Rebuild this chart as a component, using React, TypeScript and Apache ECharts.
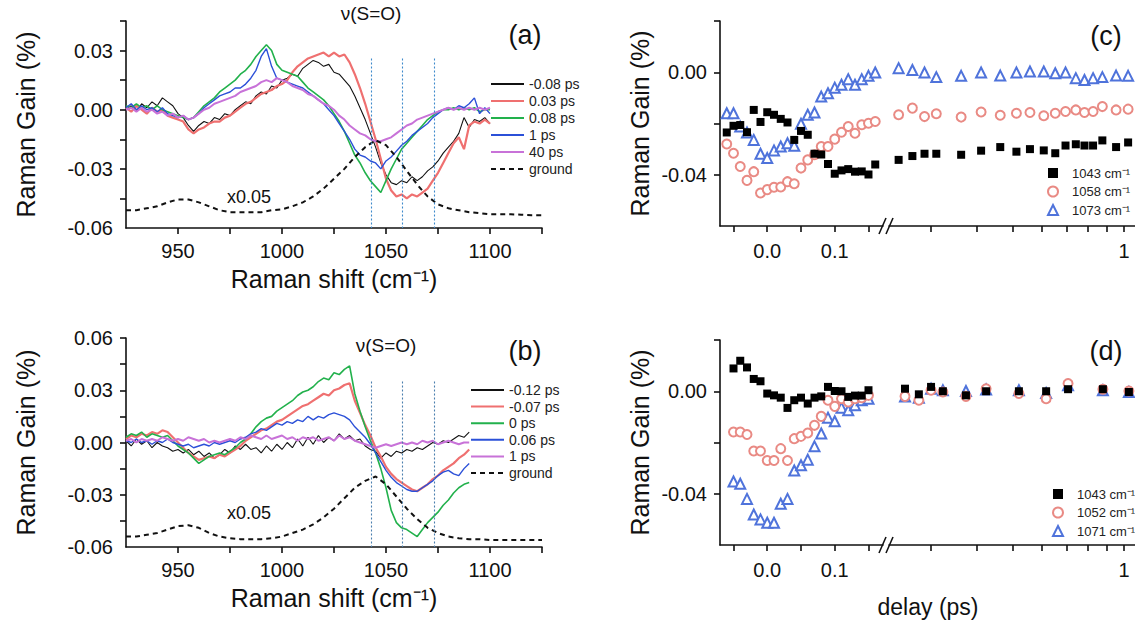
import React, { useEffect, useRef } from "react";
import * as echarts from "echarts";

const FONT = '"Liberation Sans", Arial, Helvetica, sans-serif';
const INK = "#111111";

// ---------------- panel (a) ----------------
const shiftA = [
  925, 927.5, 930, 932.5, 935, 937.5, 940, 942.5, 945, 947.5,
  950, 952.5, 955, 957.5, 960, 962.5, 965, 967.5, 970, 972.5,
  975, 977.5, 980, 982.5, 985, 987.5, 990, 992.5, 995, 997.5,
  1000, 1002.5, 1005, 1007.5, 1010, 1012.5, 1015, 1017.5, 1020, 1022.5,
  1025, 1027.5, 1030, 1032.5, 1035, 1037.5, 1040, 1042.5, 1045, 1047.5,
  1050, 1052.5, 1055, 1057.5, 1060, 1062.5, 1065, 1067.5, 1070, 1072.5,
  1075, 1077.5, 1080, 1082.5, 1085, 1087.5, 1090, 1092.5, 1095, 1097.5,
  1100,
];
const aNeg008 = [
  0.0, 0.002, -0.001, 0.003, 0.001, 0.004, 0.002, 0.006, 0.004, 0.002,
  -0.002, -0.004, -0.008, -0.011, -0.008, -0.006, -0.007, -0.004, -0.005, -0.002,
  -0.003, 0.0, 0.002, 0.004, 0.003, 0.007, 0.009, 0.008, 0.012, 0.011,
  0.015, 0.016, 0.018, 0.017, 0.021, 0.023, 0.025, 0.024, 0.022, 0.023,
  0.019, 0.018, 0.015, 0.012, 0.007, 0.001, -0.005, -0.012, -0.019, -0.027,
  -0.033, -0.037, -0.038, -0.036, -0.037, -0.034, -0.036, -0.034, -0.031, -0.029,
  -0.026, -0.022, -0.019, -0.016, -0.012, -0.004, -0.009, -0.005, -0.006, -0.004,
  -0.007,
];
const a003 = [
  0.001, -0.001, 0.002, 0.0, -0.002, 0.001, -0.001, 0.0, -0.003, -0.004,
  -0.005, -0.006, -0.01, -0.012, -0.01, -0.009, -0.007, -0.006, -0.006, -0.004,
  -0.003, -0.001, 0.001, 0.003, 0.004, 0.006, 0.008, 0.009, 0.01, 0.012,
  0.013, 0.015, 0.019, 0.022, 0.024, 0.026, 0.027, 0.028, 0.029, 0.027,
  0.029, 0.027, 0.028, 0.024, 0.018, 0.011, 0.003, -0.006, -0.015, -0.025,
  -0.035, -0.041, -0.044, -0.043, -0.045, -0.043, -0.044, -0.042, -0.04, -0.036,
  -0.032, -0.027, -0.022, -0.017, -0.014, -0.02, -0.008, -0.006, -0.007, -0.005,
  -0.007,
];
const a008 = [
  0.002, 0.001, 0.003, 0.001, 0.002, 0.0, 0.002, 0.0, -0.001, -0.002,
  -0.003, -0.004, -0.005, -0.004, -0.001, 0.002, 0.004, 0.006, 0.009, 0.011,
  0.013, 0.015, 0.018, 0.02, 0.023, 0.027, 0.03, 0.033, 0.03, 0.023,
  0.02, 0.019, 0.018, 0.017, 0.014, 0.011, 0.009, 0.007, 0.005, 0.002,
  -0.002, -0.006, -0.011, -0.017, -0.023, -0.027, -0.032, -0.036, -0.039, -0.042,
  -0.036, -0.03, -0.025, -0.02, -0.017, -0.014, -0.011, -0.008, -0.005, -0.003,
  -0.001, 0.0, 0.0, 0.001, 0.0, 0.001, 0.0, 0.001, -0.001, 0.0,
  0.0,
];
const a1 = [
  0.001, 0.003, 0.0, 0.002, 0.0, 0.001, -0.001, 0.001, -0.002, -0.003,
  -0.004, -0.003, -0.005, -0.004, -0.002, 0.001, 0.003, 0.005, 0.007, 0.008,
  0.009, 0.011, 0.011, 0.013, 0.016, 0.02, 0.027, 0.031, 0.022, 0.016,
  0.015, 0.014, 0.013, 0.012, 0.011, 0.009, 0.007, 0.005, 0.003, 0.0,
  -0.003, -0.007, -0.011, -0.015, -0.02, -0.023, -0.024, -0.026, -0.027, -0.03,
  -0.026, -0.024, -0.021, -0.018, -0.016, -0.013, -0.011, -0.009, -0.007, -0.004,
  -0.002, 0.0, 0.001, 0.0, 0.002, 0.001, 0.003, 0.006, -0.002, 0.001,
  -0.002,
];
const a40 = [
  0.0, 0.001, -0.001, 0.001, -0.001, 0.0, -0.002, -0.001, -0.003, -0.002,
  -0.004, -0.003, -0.005, -0.004, -0.002, 0.0, 0.001, 0.003, 0.004, 0.005,
  0.006, 0.007, 0.009, 0.01, 0.011, 0.012, 0.014, 0.015, 0.014, 0.016,
  0.015, 0.014, 0.012, 0.011, 0.01, 0.008, 0.007, 0.005, 0.003, 0.002,
  0.0, -0.003, -0.005, -0.008, -0.01, -0.012, -0.013, -0.015, -0.016, -0.016,
  -0.015, -0.014, -0.012, -0.01, -0.008, -0.007, -0.005, -0.004, -0.003, -0.002,
  -0.001, 0.0, 0.001, 0.0, 0.001, 0.0, 0.001, 0.0, 0.001, 0.0,
  0.001,
];
const legendA = ["-0.08 ps", "0.03 ps", "0.08 ps", "1 ps", "40 ps", "ground"];

// ---------------- panel (b) ----------------
const shiftB = [
  925, 927.5, 930, 932.5, 935, 937.5, 940, 942.5, 945, 947.5,
  950, 952.5, 955, 957.5, 960, 962.5, 965, 967.5, 970, 972.5,
  975, 977.5, 980, 982.5, 985, 987.5, 990, 992.5, 995, 997.5,
  1000, 1002.5, 1005, 1007.5, 1010, 1012.5, 1015, 1017.5, 1020, 1022.5,
  1025, 1027.5, 1030, 1032.5, 1035, 1037.5, 1040, 1042.5, 1045, 1047.5,
  1050, 1052.5, 1055, 1057.5, 1060, 1062.5, 1065, 1067.5, 1070, 1072.5,
  1075, 1077.5, 1080, 1082.5, 1085, 1087.5, 1090,
];
const bNeg012 = [
  0.001, -0.002, 0.002, -0.001, 0.001, -0.003, 0.0, -0.002, -0.003, -0.005,
  -0.004, -0.006, -0.004, -0.007, -0.005, -0.008, -0.006, -0.009, -0.007, -0.004,
  -0.006, -0.002, -0.004, -0.001, -0.004, -0.003, -0.006, -0.002, -0.005, -0.001,
  -0.004, 0.0, -0.003, 0.002, -0.002, 0.003, -0.001, 0.004, 0.0, 0.003,
  0.001, 0.005, 0.002, 0.004, 0.001, 0.002, -0.002, -0.004, -0.005, -0.009,
  -0.006, -0.008, -0.005, -0.006, -0.004, -0.005, -0.003, -0.004, -0.002, 0.0,
  -0.001, 0.001, 0.0, 0.002, 0.004, 0.003, 0.006,
];
const bNeg007 = [
  0.002, 0.004, 0.003, 0.005, 0.004, 0.006, 0.005, 0.007, 0.006, 0.003,
  0.0, -0.003, -0.006, -0.008, -0.01, -0.009, -0.008, -0.009, -0.007, -0.008,
  -0.006, -0.004, -0.002, 0.001, 0.003, 0.005, 0.007, 0.008, 0.01, 0.012,
  0.013, 0.015, 0.017, 0.019, 0.021, 0.022, 0.024, 0.026, 0.028, 0.027,
  0.03, 0.031, 0.033, 0.034, 0.024, 0.017, 0.01, 0.004, -0.003, -0.008,
  -0.014, -0.018, -0.021, -0.023, -0.025, -0.027, -0.028, -0.026, -0.024, -0.021,
  -0.019, -0.016, -0.014, -0.012, -0.009, -0.007, -0.004,
];
const b0 = [
  0.003, 0.005, 0.004, 0.006, 0.003, 0.005, 0.004, 0.003, 0.004, 0.001,
  -0.002, -0.004, -0.006, -0.009, -0.012, -0.01, -0.008, -0.007, -0.006, -0.007,
  -0.005, -0.003, 0.0, 0.002, 0.005, 0.009, 0.012, 0.014, 0.015, 0.018,
  0.02, 0.022, 0.024, 0.027, 0.029, 0.03, 0.032, 0.035, 0.037, 0.036,
  0.04, 0.039, 0.042, 0.044, 0.028, 0.018, 0.009, 0.001, -0.006, -0.015,
  -0.026, -0.039, -0.046, -0.049, -0.05, -0.052, -0.054, -0.05, -0.046, -0.043,
  -0.04, -0.036, -0.033, -0.029, -0.026, -0.024, -0.023,
];
const b006 = [
  0.001, 0.0, 0.002, 0.0, 0.001, -0.001, 0.001, 0.0, 0.002, 0.0,
  -0.001, -0.002, -0.001, -0.003, -0.002, -0.001, -0.002, 0.0, -0.001, 0.0,
  0.001, 0.0, 0.002, 0.003, 0.005, 0.006, 0.008, 0.007, 0.009, 0.011,
  0.01, 0.012, 0.011, 0.013, 0.012, 0.015, 0.013, 0.015, 0.014, 0.016,
  0.017, 0.016, 0.015, 0.013, 0.009, 0.006, 0.003, -0.001, -0.006, -0.011,
  -0.016, -0.02, -0.023, -0.025, -0.027, -0.028, -0.028, -0.026, -0.024, -0.022,
  -0.019, -0.017, -0.016, -0.018, -0.019, -0.015, -0.012,
];
const b1 = [
  0.001, 0.002, 0.0, 0.002, 0.001, 0.002, 0.001, 0.003, 0.002, 0.001,
  0.002, 0.001, 0.003, 0.002, 0.001, 0.002, 0.0, 0.001, 0.0, 0.001,
  0.002, 0.001, 0.003, 0.002, 0.004, 0.003, 0.002, 0.004, 0.002, 0.003,
  0.004, 0.002, 0.003, 0.001, 0.003, 0.002, 0.003, 0.001, 0.002, 0.003,
  0.001, 0.004, 0.002, 0.003, 0.001, 0.0, -0.001, -0.002, -0.003, -0.002,
  -0.001, -0.002, -0.001, 0.0, -0.001, 0.0, -0.001, 0.001, 0.0, 0.001,
  -0.001, 0.0, 0.001, 0.0, -0.001, 0.0, 0.0,
];
const legendB = ["-0.12 ps", "-0.07 ps", "0 ps", "0.06 ps", "1 ps", "ground"];

// ground-state spectra (scaled x0.05)
const groundShift = [
  925, 930, 935, 940, 945, 950, 955, 960, 965, 970,
  975, 980, 985, 990, 995, 1000, 1005, 1010, 1015, 1020,
  1025, 1030, 1035, 1040, 1045, 1050, 1055, 1060, 1065, 1070,
  1075, 1080, 1085, 1090, 1095, 1100, 1105, 1110, 1115, 1120,
  1125,
];
const groundA = [
  -0.051, -0.051, -0.05, -0.049, -0.047, -0.0455, -0.0455, -0.047, -0.049, -0.051,
  -0.052, -0.052, -0.052, -0.052, -0.051, -0.0505, -0.049, -0.047, -0.044, -0.04,
  -0.035, -0.03, -0.024, -0.019, -0.0155, -0.018, -0.024, -0.031, -0.038, -0.044,
  -0.048, -0.05, -0.051, -0.052, -0.0525, -0.053, -0.053, -0.053, -0.0533, -0.0535,
  -0.0535,
];
const groundB = [
  -0.054, -0.054, -0.053, -0.052, -0.05, -0.048, -0.0475, -0.049, -0.052, -0.054,
  -0.055, -0.0555, -0.0555, -0.0555, -0.055, -0.054, -0.052, -0.05, -0.047, -0.043,
  -0.038, -0.032, -0.026, -0.022, -0.0195, -0.024, -0.031, -0.038, -0.044, -0.049,
  -0.052, -0.054, -0.055, -0.0555, -0.0555, -0.056, -0.056, -0.056, -0.056, -0.056,
  -0.056,
];
const probeShifts = [1043, 1058, 1073];
const probeTopA = 0.026;
const probeTopB = 0.035;

// ---------------- panel (c) ----------------
const cDelayEarly = [
  -0.06, -0.05, -0.04, -0.03, -0.02, -0.01, 0, 0.01, 0.02, 0.03, 0.04, 0.05,
  0.06, 0.07, 0.08, 0.09, 0.1, 0.11, 0.12, 0.13, 0.14, 0.15, 0.16,
];
const c1043Early = [
  -0.0235, -0.0209, -0.0206, -0.0234, -0.0147, -0.0194, -0.0156, -0.0166, -0.0182, -0.0196, -0.0264, -0.0229,
  -0.0244, -0.0318, -0.0321, -0.0358, -0.0396, -0.0383, -0.0378, -0.0388, -0.0387, -0.0399, -0.036,
];
const c1058Early = [
  -0.028, -0.0316, -0.0368, -0.0422, -0.0388, -0.0471, -0.0458, -0.0449, -0.0448, -0.0427, -0.0435, -0.0374,
  -0.0342, -0.0322, -0.029, -0.029, -0.0261, -0.0234, -0.0212, -0.0238, -0.0205, -0.0199, -0.0192,
];
const c1073Early = [
  -0.016, -0.016, -0.0212, -0.0235, -0.0264, -0.0318, -0.0335, -0.0305, -0.029, -0.0277, -0.0287, -0.0201,
  -0.0166, -0.0157, -0.0095, -0.0082, -0.006, -0.0049, -0.0027, -0.0049, -0.0027, -0.0014, -0.0001,
];
const cDelayLate = [
  0.246, 0.268, 0.289, 0.311, 0.363, 0.411, 0.463, 0.512, 0.557, 0.607, 0.652, 0.695,
  0.741, 0.782, 0.825, 0.874, 0.952, 1.026,
];
const c1043Late = [
  -0.0342, -0.0327, -0.0318, -0.0318, -0.0322, -0.0306, -0.0292, -0.031, -0.03, -0.0305, -0.0316, -0.0286,
  -0.0281, -0.0286, -0.0286, -0.0266, -0.0292, -0.0274,
];
const c1058Late = [
  -0.0166, -0.014, -0.0173, -0.0162, -0.0175, -0.0155, -0.0168, -0.016, -0.0157, -0.017, -0.016, -0.0153,
  -0.0147, -0.0157, -0.0153, -0.0134, -0.0147, -0.0144,
];
const c1073Late = [
  0.0016, 0.0009, -0.0001, -0.0019, -0.0014, -0.0001, -0.0013, -0.0001, 0.0003, 0.0003, -0.0004, -0.0001,
  -0.0023, -0.003, -0.0023, -0.0019, -0.0013, -0.0014,
];
const legendC = ["1043 cm⁻¹", "1058 cm⁻¹", "1073 cm⁻¹"];

// ---------------- panel (d) ----------------
const dDelayEarly = [
  -0.05, -0.04, -0.03, -0.02, -0.01, 0, 0.01, 0.02, 0.03, 0.04, 0.05,
  0.06, 0.07, 0.08, 0.09, 0.1, 0.11, 0.12, 0.13, 0.14, 0.15,
];
const d1043Early = [
  0.0089, 0.0119, 0.0093, 0.0048, 0.0039, -0.0009, -0.0016, -0.0025, -0.0065, -0.0035, -0.0025,
  -0.0048, -0.0025, -0.002, 0.0017, 0.0001, 0.0, -0.0022, -0.0017, -0.0017, 0.0004,
];
const d1052Early = [
  -0.0159, -0.0159, -0.0169, -0.0233, -0.0233, -0.027, -0.027, -0.0224, -0.027, -0.0185, -0.0176,
  -0.0163, -0.0133, -0.0098, -0.0035, -0.0059, -0.0029, -0.0042, -0.0029, -0.0025, -0.0016,
];
const d1071Early = [
  -0.0352, -0.0361, -0.042, -0.0481, -0.05, -0.0513, -0.0513, -0.0439, -0.042, -0.0309, -0.0289,
  -0.0267, -0.0215, -0.0165, -0.0103, -0.0117, -0.0064, -0.0074, -0.0055, -0.0035, -0.0029,
];
const dDelayLate = [0.256, 0.279, 0.301, 0.324, 0.374, 0.424, 0.52, 0.616, 0.706, 0.877, 1.031];
const d1043Late = [0.001, -0.0012, 0.0017, 0.0, -0.0016, 0.0, 0.0, 0.0, 0.0008, 0.0008, -0.0003];
const d1052Late = [-0.002, -0.0035, 0.0004, -0.0003, -0.002, 0.001, -0.0009, -0.0029, 0.003, 0.0008, 0.0001];
const d1071Late = [-0.002, -0.0025, 0.001, 0.0004, 0.0001, 0.0007, 0.0004, -0.0007, 0.0023, 0.0004, -0.0003];
const legendD = ["1043 cm⁻¹", "1052 cm⁻¹", "1071 cm⁻¹"];

// ---------------- ticks ----------------
const shiftTicks = [950, 975, 1000, 1025, 1050, 1075, 1100, 1125];
const shiftLabels = [950, 1000, 1050, 1100];
const gainTicksA = [-0.045, -0.03, -0.015, 0, 0.015, 0.03, 0.045];
const gainLabelsA = [-0.06, -0.03, 0, 0.03];
const gainTicksB = [-0.045, -0.03, -0.015, 0, 0.015, 0.03, 0.045, 0.06];
const gainLabelsB = [-0.06, -0.03, 0, 0.03, 0.06];
const gainTicksCD = [-0.04, -0.02, 0, 0.02];
const gainLabelsCD = [-0.04, 0];
const delayTicksEarly = [-0.05, 0, 0.05, 0.1, 0.15];
const delayLabelsEarly = [0, 0.1];
const delayTicksLate = [0.3, 0.4, 0.5, 0.6, 0.7, 0.8, 0.9, 1];
const delayLabelsLate = [1];

const zip = (xs: number[], ys: number[]) => xs.map((x, i) => [x, ys[i]]);
const strip = (name: string) => name.slice(2);

const lineColors = ["#111111", "#ef7070", "#22b14c", "#2b50d8", "#c872d8"];
const lineWidths = [1.1, 2.2, 1.6, 1.4, 2.0];
const markerStyles = [
  { symbol: "rect", size: 8, color: "#000000" },
  { symbol: "emptyCircle", size: 9, color: "#e98a84" },
  { symbol: "emptyTriangle", size: 10, color: "#4f73db" },
];

function axisBase(extra: any) {
  return {
    axisLine: { show: true, onZero: false, lineStyle: { color: INK, width: 1.6 } },
    axisTick: { show: true, inside: false, length: 6, lineStyle: { color: INK, width: 1.6 } },
    splitLine: { show: false },
    axisLabel: { color: INK, fontSize: 20, fontFamily: FONT },
    nameTextStyle: { color: INK, fontSize: 25, fontFamily: FONT },
    ...extra,
  };
}

function buildOption() {
  const grids = [
    { left: 126, top: 21, width: 416, height: 207 },
    { left: 126, top: 338, width: 416, height: 209 },
    { left: 720, top: 21, width: 163, height: 205 },
    { left: 889, top: 21, width: 246, height: 205 },
    { left: 720, top: 340, width: 163, height: 205 },
    { left: 889, top: 340, width: 246, height: 205 },
  ].map((g) => ({ ...g, containLabel: false, outerBoundsMode: "none" }));

  const shiftAxis = (gridIndex: number) =>
    axisBase({
      gridIndex,
      type: "value",
      min: 925,
      max: 1125,
      axisTick: { show: true, length: 6, customValues: shiftTicks, lineStyle: { color: INK, width: 1.6 } },
      axisLabel: { color: INK, fontSize: 20, fontFamily: FONT, margin: 13, customValues: shiftLabels, formatter: (v: number) => String(Math.round(v)) },
      name: "Raman shift (cm⁻¹)",
      nameLocation: "middle",
      nameGap: 38,
    });

  const earlyAxis = (gridIndex: number) =>
    axisBase({
      gridIndex,
      type: "value",
      min: -0.07,
      max: 0.1715,
      axisTick: { show: true, length: 6, customValues: delayTicksEarly, lineStyle: { color: INK, width: 1.6 } },
      axisLabel: { color: INK, fontSize: 20, fontFamily: FONT, margin: 15, customValues: delayLabelsEarly, formatter: (v: number) => v.toFixed(1) },
    });
  const lateAxis = (gridIndex: number) =>
    axisBase({
      gridIndex,
      type: "log",
      logBase: 10,
      min: 0.2317,
      max: 1.0709,
      axisTick: { show: true, length: 6, customValues: delayTicksLate, lineStyle: { color: INK, width: 1.6 } },
      axisLabel: { color: INK, fontSize: 20, fontFamily: FONT, margin: 15, customValues: delayLabelsLate, formatter: () => "1" },
    });

  const gainAxis = (gridIndex: number, min: number, max: number, ticks: number[], labels: number[], gap: number) =>
    axisBase({
      gridIndex,
      type: "value",
      min,
      max,
      axisTick: { show: true, length: 6, customValues: ticks, lineStyle: { color: INK, width: 1.6 } },
      axisLabel: { color: INK, fontSize: 20, fontFamily: FONT, margin: 13, customValues: labels, formatter: (v: number) => (Math.abs(v) < 1e-9 ? 0 : v).toFixed(2) },
      name: "Raman Gain (%)",
      nameLocation: "middle",
      nameGap: gap,
    });
  const hiddenGain = (gridIndex: number) => ({ gridIndex, type: "value", min: -0.06, max: 0.02, show: false });

  const series: any[] = [];
  const specA = [aNeg008, a003, a008, a1, a40];
  specA.forEach((ys, i) => {
    series.push({
      type: "line",
      name: "a|" + legendA[i],
      xAxisIndex: 0,
      yAxisIndex: 0,
      data: zip(shiftA, ys),
      symbol: "none",
      lineStyle: { color: lineColors[i], width: lineWidths[i] },
      itemStyle: { color: lineColors[i] },
      ...(i === 0
        ? {
            markLine: {
              silent: true,
              symbol: ["none", "none"],
              label: { show: false },
              lineStyle: { color: "#3e8acb", type: [2, 2], width: 1.1 },
              data: probeShifts.map((x) => [{ coord: [x, probeTopA] }, { coord: [x, -0.06] }]),
            },
          }
        : {}),
    });
  });
  series.push({
    type: "line",
    name: "a|ground",
    xAxisIndex: 0,
    yAxisIndex: 0,
    data: zip(groundShift, groundA),
    symbol: "none",
    lineStyle: { color: INK, width: 2, type: [5, 4] },
    itemStyle: { color: INK },
  });

  const specB = [bNeg012, bNeg007, b0, b006, b1];
  specB.forEach((ys, i) => {
    series.push({
      type: "line",
      name: "b|" + legendB[i],
      xAxisIndex: 1,
      yAxisIndex: 1,
      data: zip(shiftB, ys),
      symbol: "none",
      lineStyle: { color: lineColors[i], width: lineWidths[i] },
      itemStyle: { color: lineColors[i] },
      ...(i === 0
        ? {
            markLine: {
              silent: true,
              symbol: ["none", "none"],
              label: { show: false },
              lineStyle: { color: "#4a7fae", type: [2, 2], width: 1.1 },
              data: probeShifts.map((x) => [{ coord: [x, probeTopB] }, { coord: [x, -0.06] }]),
            },
          }
        : {}),
    });
  });
  series.push({
    type: "line",
    name: "b|ground",
    xAxisIndex: 1,
    yAxisIndex: 1,
    data: zip(groundShift, groundB),
    symbol: "none",
    lineStyle: { color: INK, width: 2, type: [5, 4] },
    itemStyle: { color: INK },
  });

  const scatter = (name: string, axis: number, xs: number[], ys: number[], k: number) => ({
    type: "scatter",
    name,
    xAxisIndex: axis,
    yAxisIndex: axis,
    data: zip(xs, ys),
    symbol: markerStyles[k].symbol,
    symbolSize: markerStyles[k].size,
    itemStyle: { color: markerStyles[k].color, borderWidth: 1.2, opacity: 1 },
    z: 3 - k,
  });
  const cEarly = [c1043Early, c1058Early, c1073Early];
  const cLate = [c1043Late, c1058Late, c1073Late];
  const dEarly = [d1043Early, d1052Early, d1071Early];
  const dLate = [d1043Late, d1052Late, d1071Late];
  for (let k = 0; k < 3; k++) {
    series.push(scatter("c|" + legendC[k], 2, cDelayEarly, cEarly[k], k));
    series.push(scatter("c|" + legendC[k], 3, cDelayLate, cLate[k], k));
    series.push(scatter("d|" + legendD[k], 4, dDelayEarly, dEarly[k], k));
    series.push(scatter("d|" + legendD[k], 5, dDelayLate, dLate[k], k));
  }

  const lineLegend = (names: string[], prefix: string, left: number, top: number, gap: number) => ({
    orient: "vertical",
    left,
    top,
    padding: 0,
    itemWidth: 33,
    itemHeight: 14,
    itemGap: gap,
    selectedMode: false,
    itemStyle: { opacity: 0 },
    data: names.map((n) => prefix + n),
    formatter: strip,
    textStyle: { color: "#222", fontSize: 14, fontFamily: FONT, lineHeight: 14 },
  });
  const markLegend = (names: string[], prefix: string, left: number, top: number) => ({
    orient: "vertical",
    left,
    top,
    padding: 0,
    itemWidth: 10,
    itemHeight: 10,
    itemGap: 5.5,
    selectedMode: false,
    itemStyle: { opacity: 1 },
    data: names.map((n) => prefix + n),
    formatter: strip,
    textStyle: { color: "#222", fontSize: 13, fontFamily: FONT, lineHeight: 13, padding: [0, 0, 0, 9] },
  });

  const txt = (text: string, x: number, y: number, size: number, vAlign = "middle") => ({
    type: "text",
    x,
    y,
    silent: true,
    style: {
      text,
      fill: INK,
      fontSize: size,
      fontFamily: FONT,
      align: "center",
      verticalAlign: vAlign,
      textAlign: "center",
      textVerticalAlign: vAlign,
    },
  });
  const slash = (x1: number, y1: number, x2: number, y2: number) => ({
    type: "line",
    silent: true,
    shape: { x1, y1, x2, y2 },
    style: { stroke: INK, lineWidth: 1.6 },
  });

  return {
    animation: false,
    backgroundColor: "#ffffff",
    grid: grids,
    xAxis: [shiftAxis(0), shiftAxis(1), earlyAxis(2), lateAxis(3), earlyAxis(4), lateAxis(5)],
    yAxis: [
      gainAxis(0, -0.06, 0.045, gainTicksA, gainLabelsA, 88),
      gainAxis(1, -0.06, 0.06, gainTicksB, gainLabelsB, 88),
      gainAxis(2, -0.06, 0.02, gainTicksCD, gainLabelsCD, 68),
      hiddenGain(3),
      gainAxis(4, -0.06, 0.02, gainTicksCD, gainLabelsCD, 68),
      hiddenGain(5),
    ],
    legend: [
      lineLegend(legendA, "a|", 490, 77, 3),
      lineLegend(legendB, "b|", 470, 383, 2.6),
      markLegend(legendC, "c|", 1047, 166.5),
      markLegend(legendD, "d|", 1052, 487.5),
    ],
    graphic: [
      txt("ν(S=O)", 371, 13, 19),
      txt("ν(S=O)", 386, 345, 19),
      txt("x0.05", 249, 197, 18),
      txt("x0.05", 249, 513, 18),
      txt("(a)", 525, 35, 27),
      txt("(b)", 525, 351, 27),
      txt("(c)", 1106, 36, 27),
      txt("(d)", 1106, 351, 27),
      txt("delay (ps)", 928, 595, 23, "top"),
      slash(879, 234, 886, 218),
      slash(886, 234, 893, 218),
      slash(879, 553, 886, 537),
      slash(886, 553, 893, 537),
    ],
    series,
  };
}

export default function App() {
  const ref = useRef<HTMLDivElement>(null);
  useEffect(() => {
    if (!ref.current) return;
    const chart = echarts.init(ref.current, undefined, { renderer: "svg" });
    chart.setOption(buildOption() as any);
    return () => chart.dispose();
  }, []);
  return (
    <div
      ref={ref}
      style={{ position: "fixed", left: 0, top: 0, width: 1135, height: 621, background: "#fff" }}
    />
  );
}
